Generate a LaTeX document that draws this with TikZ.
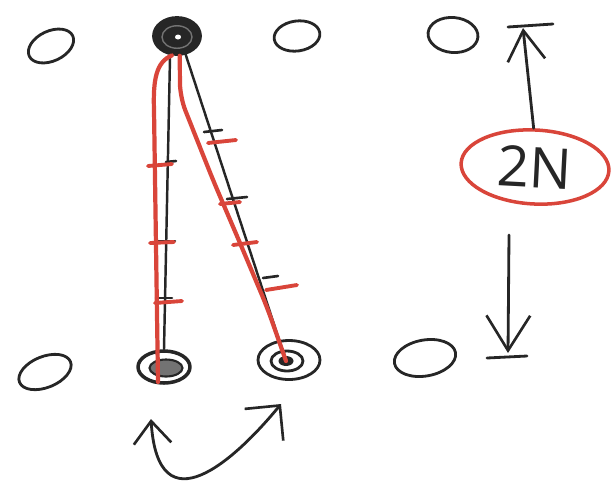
\documentclass[tikz,border=0pt]{standalone}
\usepackage{fontspec}
\setsansfont{Open Sans}
\usetikzlibrary{arrows.meta,shapes.geometric}
\definecolor{pen}{HTML}{D9453A}
\definecolor{ink}{HTML}{262626}
\begin{document}
\begin{tikzpicture}[x=0.02cm,y=-0.02cm,
  inkline/.style={draw=ink,line width=1.6pt,line cap=round,line join=round},
  redline/.style={draw=pen,line width=2.4pt,line cap=round,line join=round},
  site/.style={ellipse,inkline,inner sep=0pt},
  tick/.style={draw=ink,line width=1.5pt,line cap=round},
  redtick/.style={draw=pen,line width=2.2pt,line cap=round},
  barb/.style={-{Straight Barb[length=#1,width=1.25*#1,line width=1.5pt]}},
  label/.style={ellipse,draw=pen,line width=2pt,inner sep=0pt,minimum width=2.96cm,minimum height=1.48cm,
    font=\sffamily\fontsize{32}{36}\selectfont,text=ink}]
\useasboundingbox (0,0) rectangle (611,481);
% top row
\node[site,minimum width=0.96cm,minimum height=0.6cm,rotate=25] (a1) at (51,46) {};
\node[site,fill=ink,minimum width=0.94cm,minimum height=0.74cm] (T) at (177,36) {};
\node[ellipse,draw=black!55,line width=0.8pt,minimum width=0.6cm,minimum height=0.45cm,inner sep=0pt] (Tin) at (177,37) {};
\node[ellipse,fill=white,minimum width=0.12cm,minimum height=0.1cm,inner sep=0pt] (Tc) at (178,37) {};
\node[site,minimum width=0.92cm,minimum height=0.6cm,rotate=8] (a3) at (297,36) {};
\node[site,minimum width=1.0cm,minimum height=0.7cm,rotate=-5] (a4) at (453,35) {};
% bottom row
\node[site,minimum width=1.1cm,minimum height=0.62cm,rotate=22] (b0) at (45,372) {};
\node[site,line width=2pt,minimum width=1.04cm,minimum height=0.64cm] (B1) at (164,367) {};
\node[ellipse,draw=ink,line width=1.2pt,fill=black!55,minimum width=0.66cm,minimum height=0.34cm,inner sep=0pt] (B1in) at (166,368) {};
\node[site,minimum width=1.24cm,minimum height=0.78cm] (B2) at (289,360) {};
\node[site,minimum width=0.64cm,minimum height=0.4cm] (B2m) at (287,361) {};
\node[ellipse,fill=ink,minimum width=0.3cm,minimum height=0.2cm,inner sep=0pt] (B2c) at (286,361) {};
\node[site,minimum width=1.24cm,minimum height=0.72cm,rotate=10] (b3) at (425,358) {};
% black strings
\draw[inkline,line width=1.4pt] (T.250) -- (B1.north);
\draw[inkline,line width=1.4pt] (T.295) -- (B2c.center);
% black ticks
\draw[tick] (166,162) -- (176,161);
\draw[tick] (158,241) -- (175,241);
\draw[tick] (156,298) -- (172,298);
\draw[tick] (204,132) -- (222,130);
\draw[tick] (227,199) -- (247,197);
\draw[tick] (263,278) -- (278,276);
% red strings
\coordinate (rv1) at (154,110);
\coordinate (rvend) at (158,382);
\draw[redline] (T.255) .. controls (156,62) and (153,80) .. (rv1) -- (rvend);
\coordinate (rd1) at (180,97);
\coordinate (rd2) at (213,180);
\coordinate (rd3) at (240,243);
\coordinate (rd4) at (267,307);
\draw[redline,rounded corners=8pt] (T.278) -- (rd1) -- (rd2) -- (rd3) -- (rd4) -- (B2c.center);
% red ticks
\draw[redtick] (148,166) -- (172,164);
\draw[redtick] (150,243) -- (174,242);
\draw[redtick] (155,303) -- (182,301);
\draw[redtick] (208,143) -- (236,140);
\draw[redtick] (220,204) -- (240,202);
\draw[redtick] (233,245) -- (257,242);
\draw[redtick] (266,290) -- (297,285);
% label and arrows
\node[label,rotate=-3] (L) at (535,167) {2N};
\coordinate (up) at (523,28);
\coordinate (dn) at (508,353);
\coordinate (topbar1) at (508,27);
\coordinate (topbar2) at (553,24);
\coordinate (botbar1) at (487,358);
\coordinate (botbar2) at (527,356);
\coordinate (dnstart) at (509,235);
\draw[inkline,barb=0.6cm] (L.95) -- (up);
\draw[inkline] (topbar1) -- (topbar2);
\draw[inkline,barb=0.7cm] (dnstart) -- (dn);
\draw[inkline] (botbar1) -- (botbar2);
% swap arrow
\coordinate (s1) at (151,419);
\coordinate (s2) at (281,404);
\draw[inkline,{Straight Barb[length=0.45cm,width=0.75cm,line width=1.5pt]}-{Straight Barb[length=0.5cm,width=1cm,line width=1.5pt]}]
  (s1) .. controls (158,530) and (235,460) .. (s2);
\end{tikzpicture}
\end{document}
